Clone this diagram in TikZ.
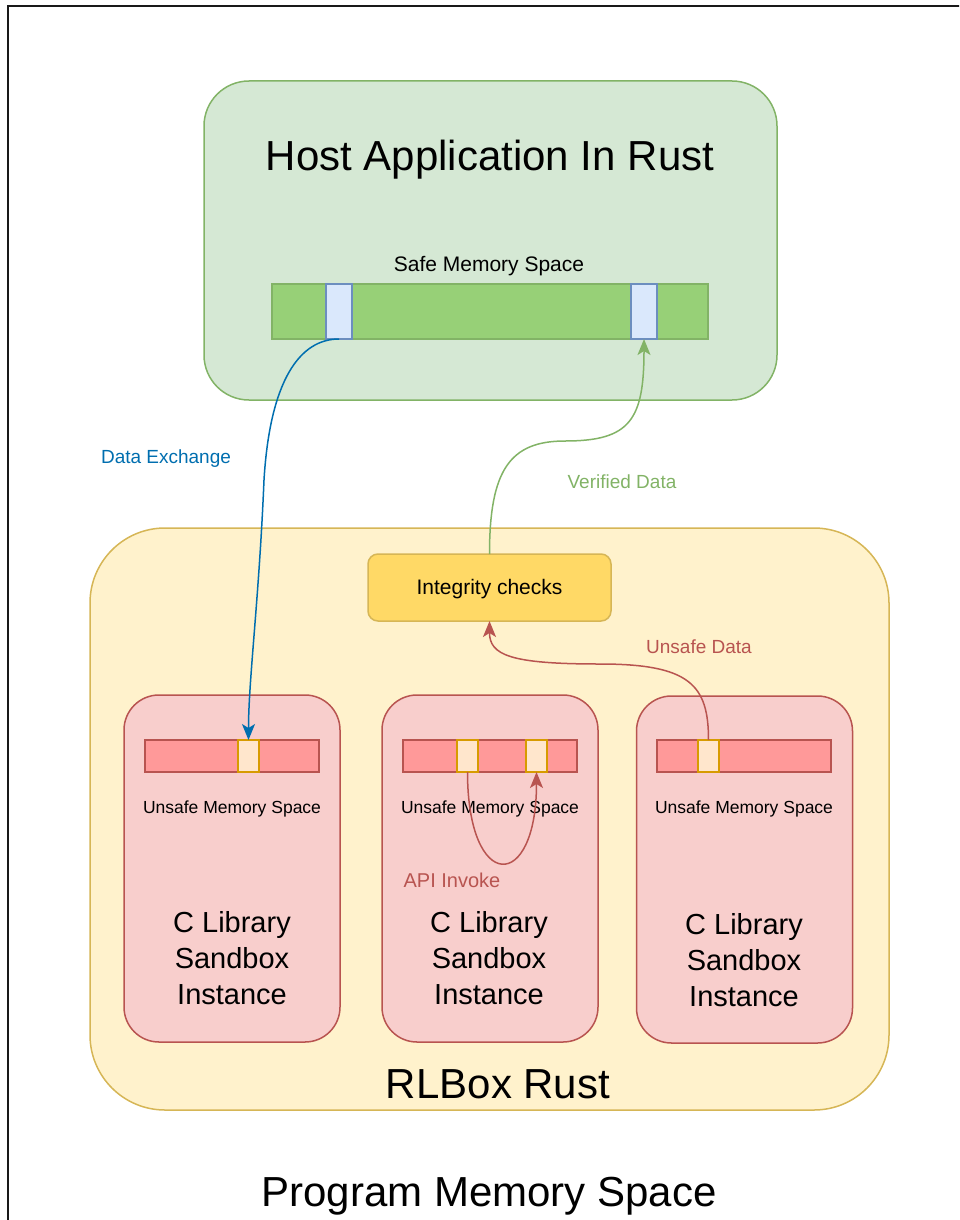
\documentclass[tikz,border=0pt]{standalone}
\usepackage{fontspec}
\setmainfont{Liberation Sans}
\usetikzlibrary{arrows.meta}
\definecolor{hostfill}{HTML}{D5E8D4}
\definecolor{hoststroke}{HTML}{82B366}
\definecolor{safebarfill}{HTML}{97D077}
\definecolor{slotfill}{HTML}{DAE8FC}
\definecolor{slotstroke}{HTML}{6C8EBF}
\definecolor{rlfill}{HTML}{FFF2CC}
\definecolor{rlstroke}{HTML}{D6B656}
\definecolor{integfill}{HTML}{FFD966}
\definecolor{cfill}{HTML}{F8CECC}
\definecolor{cstroke}{HTML}{B85450}
\definecolor{ubarfill}{HTML}{FF9999}
\definecolor{uslotfill}{HTML}{FFE6CC}
\definecolor{uslotstroke}{HTML}{D79B00}
\definecolor{bluearr}{HTML}{006EAF}
\definecolor{greenarr}{HTML}{82B366}
\definecolor{redarr}{HTML}{B85450}
\begin{document}
\begin{tikzpicture}[x=1pt,y=-1pt,
  every node/.style={inner sep=0pt, outer sep=0pt},
  lw/.style={line width=1.5pt},
  hostbox/.style={lw, draw=hoststroke, fill=hostfill, rounded corners=45pt},
  safebar/.style={lw, draw=hoststroke, fill=safebarfill},
  safeslot/.style={lw, draw=slotstroke, fill=slotfill, minimum width=26pt, minimum height=55pt},
  rlbox/.style={lw, draw=rlstroke, fill=rlfill, rounded corners=75pt},
  integbox/.style={lw, draw=rlstroke, fill=integfill, rounded corners=10pt},
  cbox/.style={lw, draw=cstroke, fill=cfill, rounded corners=35pt, minimum width=216pt, minimum height=347pt},
  ubar/.style={lw, draw=cstroke, fill=ubarfill, minimum width=174pt, minimum height=32pt},
  uslot/.style={lw, draw=uslotstroke, fill=uslotfill, minimum width=21pt, minimum height=32pt},
  bigtxt/.style={font=\fontsize{42}{50}\selectfont},
  midtxt/.style={font=\fontsize{21}{25}\selectfont},
  umtxt/.style={font=\fontsize{17.5}{21}\selectfont},
  ctxt/.style={font=\fontsize{29}{36}\selectfont, align=center},
  lbltxt/.style={font=\fontsize{19}{23}\selectfont},
  arr/.style={lw, -{Stealth[length=16pt, width=13pt, inset=4pt]}},
]
\useasboundingbox (0,0) rectangle (959,1220);
\clip (0,0) rectangle (959,1220);
\draw[line width=2pt, black!90] (8,6) rectangle (1000,1260);

% Host application
\node[hostbox, minimum width=573pt, minimum height=319pt] (host) at (490.5,240.5) {};
\node[bigtxt] (hosttitle) at (490,160) {Host Application In Rust};
\node[midtxt] (safelabel) at (489,266) {Safe Memory Space};
\node[safebar, minimum width=436pt, minimum height=55pt] (safebar) at (490,311.5) {};
\node[safeslot] (s1) at (339,311.5) {};
\node[safeslot] (s2) at (644,311.5) {};

% RLBox
\node[rlbox, minimum width=799pt, minimum height=582pt] (rlbox) at (489.5,819) {};
\node[bigtxt] (rltitle) at (498,1084) {RLBox Rust};
\node[integbox, minimum width=243pt, minimum height=67pt] (integ) at (489.5,587.5) {};
\node[midtxt] (integtxt) at (489.5,589.5) {Integrity checks};

% C library sandboxes
\node[cbox] (c1) at (232,868.5) {};
\node[cbox] (c2) at (490,868.5) {};
\node[cbox] (c3) at (744.5,869.5) {};

\node[ubar] (b1) at (232,756) {};
\node[ubar] (b2) at (490,756) {};
\node[ubar] (b3) at (744,756) {};
\node[uslot] (l1) at (248.5,756) {};
\node[uslot] (m1) at (467.5,756) {};
\node[uslot] (m2) at (536.5,756) {};
\node[uslot] (r1) at (708.5,756) {};

\node[umtxt] (u1) at (232,809) {Unsafe Memory Space};
\node[umtxt] (u2) at (490,809) {Unsafe Memory Space};
\node[umtxt] (u3) at (744,809) {Unsafe Memory Space};

\node[ctxt] (ct1) at (232,958) {C Library\\Sandbox\\Instance};
\node[ctxt] (ct2) at (489,958) {C Library\\Sandbox\\Instance};
\node[ctxt] (ct3) at (744,960) {C Library\\Sandbox\\Instance};

% Program memory title
\node[bigtxt] (progtitle) at (489,1196) {Program Memory Space};

% Connectors
\draw[arr, bluearr] (s1.south) .. controls (300,339) and (270,380) .. (264,480)
  .. controls (259,600) and (248.5,680) .. (l1.north);
\draw[arr, greenarr] (integ.north) .. controls (489.5,470) and (510,441) .. (565,441)
  .. controls (630,441) and (644,420) .. (s2.south);
\draw[arr, redarr] (r1.north) .. controls (708.5,685) and (690,664) .. (600,664)
  .. controls (510,664) and (489.5,655) .. (integ.south);
\draw[arr, redarr] (m1.south) .. controls (467.5,893) and (536.5,893) .. (m2.south);

% Labels
\node[lbltxt, text=bluearr] (lblx) at (166,459) {Data Exchange};
\node[lbltxt, text=greenarr] (lblv) at (622,482) {Verified Data};
\node[lbltxt, text=redarr] (lblu) at (699,647) {Unsafe Data};
\node[font=\fontsize{20}{24}\selectfont, text=redarr] (lbla) at (452,880) {API Invoke};
\end{tikzpicture}
\end{document}
